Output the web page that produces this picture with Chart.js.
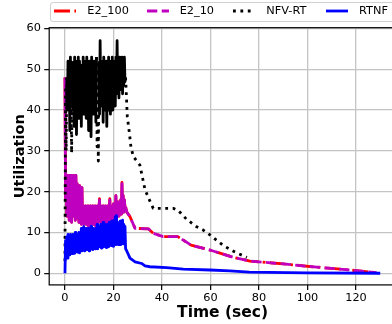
<!DOCTYPE html>
<html>
<head>
<meta charset="utf-8">
<script src="https://cdn.jsdelivr.net/npm/chart.js@4.4.1/dist/chart.umd.min.js"></script>
<style>
  html, body { margin: 0; padding: 0; background: #fff; overflow: hidden; }
  #wrap { position: relative; width: 400px; height: 324px; }
  #chart { position: absolute; left: 0; top: 0; }
  #legend {
    position: absolute; left: 50px; top: 2px; width: 360px; height: 18px;
    border: 1px solid #d0d0d0; border-radius: 3px; background: rgba(255,255,255,0.8);
    font: 11.3px "DejaVu Sans"; color: #000;
  }
  .item { position: absolute; top: 0; height: 18px; }
  .item canvas { position: absolute; left: 0; top: 3px; }
  .item span { position: absolute; left: 33px; top: 0; line-height: 16.6px; white-space: nowrap; }
</style>
</head>
<body>
<div id="wrap">
  <canvas id="chart" width="400" height="324"></canvas>
  <div id="legend"></div>
</div>
<script>
// --- Data ---
const seriesNames = ['E2_100', 'E2_10', 'NFV-RT', 'RTNF'];
const xTicks = [0, 20, 40, 60, 80, 100, 120];
const yTicks = [0, 10, 20, 30, 40, 50, 60];

// busy period (0..25 s), sampled every 0.25 s
const burstTime = [
  0, 0.25, 0.5, 0.75, 1, 1.25, 1.5, 1.75, 2, 2.25,
  2.5, 2.75, 3, 3.25, 3.5, 3.75, 4, 4.25, 4.5, 4.75,
  5, 5.25, 5.5, 5.75, 6, 6.25, 6.5, 6.75, 7, 7.25,
  7.5, 7.75, 8, 8.25, 8.5, 8.75, 9, 9.25, 9.5, 9.75,
  10, 10.25, 10.5, 10.75, 11, 11.25, 11.5, 11.75, 12, 12.25,
  12.5, 12.75, 13, 13.25, 13.5, 13.75, 14, 14.25, 14.5, 14.75,
  15, 15.25, 15.5, 15.75, 16, 16.25, 16.5, 16.75, 17, 17.25,
  17.5, 17.75, 18, 18.25, 18.5, 18.75, 19, 19.25, 19.5, 19.75,
  20, 20.25, 20.5, 20.75, 21, 21.25, 21.5, 21.75, 22, 22.25,
  22.5, 22.75, 23, 23.25, 23.5, 23.75, 24, 24.25, 24.5, 24.75,
  25
];
const nfvBurst = [
  3, 45, 30, 48, 40, 52, 41, 51, 35, 53,
  42, 29.5, 52, 40, 51, 36, 53, 42, 52, 34,
  51, 43, 53, 38, 52, 41, 51, 36, 50, 43,
  53, 39, 52, 41, 51, 38, 53, 42, 51, 35,
  52, 40, 51, 33.5, 53, 42, 51, 39, 52, 41,
  51, 37, 53, 31, 51, 27.5, 52, 39, 57, 41,
  52, 42, 51, 37, 53, 40, 51, 42, 52, 36,
  51, 42, 53, 40, 52, 39, 51, 43, 53, 40,
  52, 44, 51, 41, 53, 45, 57, 44, 52, 43,
  53, 45, 52, 46, 53, 44, 52, 46, 53, 47,
  48
];
const e210Burst = [
  48, 18, 24, 14, 24, 16, 23.5, 13, 24, 15,
  24, 12.5, 23, 15.5, 24, 14, 23.5, 13, 24, 15,
  22, 13.5, 21, 12.5, 21.5, 14, 20.5, 12, 21, 13,
  16.5, 12, 16, 13, 16.5, 12, 16, 12.5, 16.5, 11.5,
  16, 12.5, 16.5, 12, 16, 13, 16.5, 12, 16, 12.5,
  16.5, 11.5, 16, 12, 16.5, 12.5, 16, 18, 13, 16.5,
  12, 16, 12.5, 16.5, 12, 16, 13, 16.5, 12.5, 16,
  12, 16.5, 13, 16, 18, 13, 16.5, 12.5, 16, 13.5,
  17, 13, 16.5, 14, 19, 13.5, 17, 14.5, 17.5, 14,
  17, 15, 18, 14.5, 22, 15.5, 19, 15, 18, 16,
  16.3
];
const e2100Burst = [
  48, 18, 24, 14, 24, 16, 23.5, 13, 24, 15,
  24, 12.5, 23, 15.5, 24, 14, 23.5, 13, 24, 15,
  22, 13.5, 21, 12.5, 21.5, 14, 20.5, 12, 21, 13,
  16.5, 12, 16, 13, 16.5, 12, 16, 12.5, 16.5, 11.5,
  16, 12.5, 16.5, 12, 16, 13, 16.5, 12, 16, 12.5,
  16.5, 11.5, 16, 12, 16.5, 12.5, 16, 18.3, 13, 16.5,
  12, 16, 12.5, 16.5, 12, 16, 13, 16.5, 12.5, 16,
  12, 16.5, 13, 16, 18.3, 13, 16.5, 12.5, 16, 13.5,
  17, 13, 16.5, 14, 19, 13.5, 17, 14.5, 17.5, 14,
  17, 15, 18, 14.5, 22.3, 15.5, 19, 15, 18, 16,
  16.3
];
const rtnfBurst = [
  0, 8, 4, 9, 3.7, 9.5, 5, 8.5, 4.5, 9.5,
  5, 9, 4.8, 9.5, 5.5, 9, 4.9, 10, 5.5, 9,
  5.2, 9.5, 5.8, 10, 5, 9.5, 6, 11, 5.5, 10,
  6, 11.4, 5.5, 10, 6.2, 11, 5.8, 10.5, 6, 11,
  5.5, 10, 6, 11.5, 6.2, 10, 5.8, 11, 6.5, 10.5,
  6, 11, 6.5, 12, 6, 11, 6.8, 11.5, 6.5, 12,
  6.2, 11, 6.8, 12.5, 6.5, 11.5, 7, 12, 6.3, 11.5,
  7, 12, 6.5, 12.5, 7.2, 11.5, 6.8, 12.8, 7, 12,
  6.6, 13, 7.2, 13.9, 7, 14.1, 7.5, 12.5, 7, 12,
  7.5, 12.8, 7, 12, 7.6, 13, 7.2, 12, 7.5, 11.5,
  6
];

// drain period after 25 s
const nfvTailTime = [25.4, 25.7, 26.5, 27.2, 28.2, 30.9, 31.6, 33, 34.8, 36.4, 44.7, 46.7, 50.2, 54.3, 57, 59.8, 65.3, 70.1, 75];
const nfvTail = [42.5, 38.4, 34.7, 31, 28.6, 26.5, 24.5, 20.5, 18, 15.9, 15.9, 15.4, 13.2, 11.4, 10.6, 9.4, 6.8, 5.2, 3.9];
const e2TailTime = [25.5, 26.8, 28.9, 34.4, 36.4, 40.5, 46.5, 52, 59.8, 69.4, 76.3, 90, 103.8, 117.5, 128.5];
const e210Tail = [15, 13.9, 11, 10.9, 9.8, 9, 9, 6.9, 5.7, 3.9, 3, 2.3, 1.5, 0.8, 0.15];
const e2100Tail = [15, 13.9, 11, 10.9, 9.8, 9, 9, 6.9, 5.7, 3.9, 3, 2.3, 1.5, 0.8, 0.15];
const rtnfTailTime = [25.3, 26.8, 28.9, 31.6, 33, 35, 41.9, 48.8, 59.8, 68, 76, 100, 130];
const rtnfTail = [5.7, 3.7, 2.8, 2.4, 1.8, 1.6, 1.4, 1.0, 0.8, 0.6, 0.3, 0.1, 0];

// --- Helpers ---
function toPoints(xs, ys) {
    return xs.map((x, i) => ({ x: x, y: ys[i] }));
}

const BURST_END = 25;
const styles = [
    { color: '#ff0000', dash: [16, 4.4, 2.8, 4.4], order: 4, denseFloor: -1 },  // dash-dot
    { color: '#bf00bf', dash: [10.3, 4.4], order: 3, denseFloor: -1 },          // dashed
    { color: '#000000', dash: [2.8, 4.6], order: 2, denseFloor: 33 },           // dotted
    { color: '#0000ff', dash: [], order: 1, denseFloor: -1 }                    // solid
];
const LW = 2.8;

const seriesData = [
    toPoints(burstTime, e2100Burst).concat(toPoints(e2TailTime, e2100Tail)),
    toPoints(burstTime, e210Burst).concat(toPoints(e2TailTime, e210Tail)),
    toPoints(burstTime, nfvBurst).concat(toPoints(nfvTailTime, nfvTail)),
    toPoints(burstTime, rtnfBurst).concat(toPoints(rtnfTailTime, rtnfTail))
];

// in the busy period the samples are so dense the pattern fills in solid
function denseSegment(floor) {
    return c => {
        if (c.p1.parsed.x > BURST_END) return undefined;
        if (Math.min(c.p0.parsed.y, c.p1.parsed.y) < floor) return undefined;
        return [];
    };
}

const datasets = seriesNames.map((name, i) => ({
    label: name,
    data: seriesData[i],
    borderColor: styles[i].color,
    borderWidth: LW,
    borderDash: styles[i].dash,
    borderCapStyle: 'butt',
    borderJoinStyle: 'round',
    pointRadius: 0,
    tension: 0,
    fill: false,
    order: styles[i].order,
    segment: styles[i].dash.length ? { borderDash: denseSegment(styles[i].denseFloor) } : undefined
}));

// --- Legend (html) ---
const legendPos = [3.3, 95.7, 182.3, 275];
const legend = document.getElementById('legend');
seriesNames.forEach((name, i) => {
    const item = document.createElement('div');
    item.className = 'item';
    item.style.left = legendPos[i] + 'px';
    const c = document.createElement('canvas');
    c.width = 24; c.height = 10;
    const g = c.getContext('2d');
    g.strokeStyle = styles[i].color;
    g.lineWidth = LW;
    g.setLineDash(styles[i].dash);
    g.beginPath(); g.moveTo(0, 5); g.lineTo(22, 5); g.stroke();
    const s = document.createElement('span');
    s.textContent = name;
    item.appendChild(c); item.appendChild(s);
    legend.appendChild(item);
});

// --- Frame plugin (matplotlib style box) ---
const frame = {
    id: 'frame',
    afterDatasetsDraw(chart) {
        const { ctx, chartArea: a } = chart;
        ctx.save();
        ctx.strokeStyle = '#000';
        ctx.lineWidth = 1.2;
        ctx.strokeRect(a.left, a.top, a.right - a.left, a.bottom - a.top);
        ctx.restore();
    }
};

const gridOpts = {
    color: '#c4c4c4',
    lineWidth: 1.3,
    tickColor: '#000',
    tickLength: 5,
    tickWidth: 1.2
};

new Chart(document.getElementById('chart'), {
    type: 'line',
    data: { datasets: datasets },
    options: {
        responsive: false,
        animation: false,
        events: [],
        layout: { padding: { top: 27.7, right: 4, left: 0, bottom: 0 } },
        plugins: { legend: { display: false }, tooltip: { enabled: false } },
        scales: {
            x: {
                type: 'linear',
                min: -6.5,
                max: 136.5,
                afterBuildTicks: s => { s.ticks = xTicks.map(v => ({ value: v })); },
                afterFit: s => { s.height = 39.1; },
                grid: gridOpts,
                border: { display: false },
                ticks: { color: '#000', padding: 1, maxRotation: 0, font: { family: 'DejaVu Sans', size: 11.3 } },
                title: { display: true, text: 'Time (sec)', color: '#000', padding: { top: 0, bottom: 1.7 },
                         font: { family: 'DejaVu Sans', size: 15.5, weight: 'bold' } }
            },
            y: {
                type: 'linear',
                min: -2.85,
                max: 60.2,
                afterBuildTicks: s => { s.ticks = yTicks.map(v => ({ value: v })); },
                afterFit: s => { s.width = 49.2; },
                grid: gridOpts,
                border: { display: false },
                ticks: { color: '#000', padding: 3.3, font: { family: 'DejaVu Sans', size: 11.3 } },
                title: { display: true, text: 'Utilization', color: '#000', padding: { top: 12, bottom: 0 },
                         font: { family: 'DejaVu Sans', size: 14.5, weight: 'bold' } }
            }
        }
    },
    plugins: [frame]
});
</script>
</body>
</html>
